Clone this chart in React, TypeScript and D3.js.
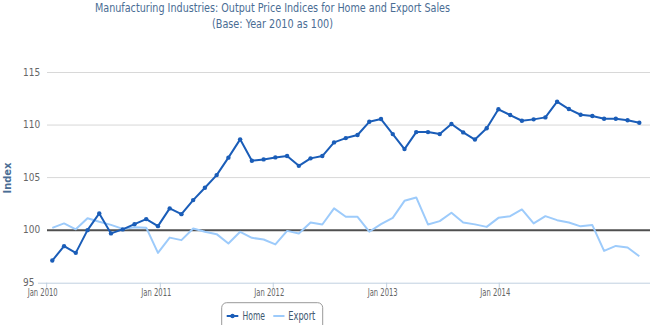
import React from "react";
import * as d3 from "d3";

const title1 = "Manufacturing Industries: Output Price Indices for Home and Export Sales";
const title2 = "(Base: Year 2010 as 100)";
const yTitle = "Index";
const seriesNames = ["Home", "Export"];

const home = [
  97.11, 98.48, 97.84, 100.0, 101.59, 99.69, 100.07, 100.57, 101.05, 100.38,
  102.07, 101.52, 102.86, 104.03, 105.24, 106.9, 108.64, 106.6, 106.73, 106.92,
  107.05, 106.12, 106.83, 107.05, 108.35, 108.76, 109.05, 110.31, 110.57, 109.14,
  107.71, 109.33, 109.33, 109.14, 110.1, 109.3, 108.62, 109.69, 111.5, 110.95,
  110.41, 110.54, 110.73, 112.22, 111.52, 110.98, 110.86, 110.6, 110.6, 110.45,
  110.22,
];
const exportS = [
  100.22, 100.64, 100.08, 101.14, 100.8, 100.5, 100.12, 100.27, 100.24, 97.84,
  99.29, 99.05, 100.16, 99.84, 99.62, 98.73, 99.84, 99.27, 99.11, 98.64,
  99.93, 99.69, 100.73, 100.54, 102.07, 101.27, 101.27, 99.85, 100.57, 101.17,
  102.79, 103.11, 100.54, 100.86, 101.65, 100.73, 100.55, 100.31, 101.17, 101.33,
  101.97, 100.64, 101.33, 100.95, 100.73, 100.36, 100.48, 98.03, 98.5, 98.35,
  97.52,
];
const xTickLabels = ["Jan 2010", "Jan 2011", "Jan 2012", "Jan 2013", "Jan 2014"];
const xTickAt = [-0.48, 9.2, 18.82, 28.48, 38.07];
const yTicks = [95, 100, 105, 110, 115];
const baseValue = 100;

const W = 650;
const H = 325;
const plotLeft = 47;
const plotRight = 650;
const FONT = "'Liberation Sans Narrow', 'DejaVu Sans Condensed', 'Liberation Sans', sans-serif";
const HOME_C = "#1a5db8";
const EXP_C = "#9dcbfb";

export default function App() {
  const x = d3.scaleLinear().domain([0, home.length - 1]).range([52.3, 639.3]);
  const y = d3.scaleLinear().domain([95, 115]).range([282.7, 72.5]);
  const line = d3
    .line<number>()
    .x((_, i) => x(i))
    .y((d) => y(d));

  return (
    <svg
      width={W}
      height={H}
      style={{ position: "absolute", left: 0, top: 0, display: "block", background: "#fff" }}
      fontFamily={FONT}
    >
      <text x={272.5} y={12} textAnchor="middle" fontSize={12.5} fill="#4a6d94" textLength={355} lengthAdjust="spacingAndGlyphs">
        {title1}
      </text>
      <text x={272.5} y={27.5} textAnchor="middle" fontSize={12.5} fill="#4a6d94" textLength={121} lengthAdjust="spacingAndGlyphs">
        {title2}
      </text>

      {yTicks.filter((t) => t !== 95 && t !== baseValue).map((t) => (
        <line key={t} x1={plotLeft} x2={plotRight} y1={y(t)} y2={y(t)} stroke="#d8d8d8" strokeWidth={1} />
      ))}
      {yTicks.map((t) => (
        <text key={"l" + t} x={23} y={y(t) + 3} fontSize={10.5} fill="#666" textLength={String(t).length * 5.7} lengthAdjust="spacingAndGlyphs">
          {t}
        </text>
      ))}
      <text
        transform={`translate(11, 178) rotate(-90)`}
        textAnchor="middle"
        fontSize={11}
        fontWeight="bold"
        fill="#4a6d94"
      >
        {yTitle}
      </text>

      <line x1={plotLeft - 9} x2={plotRight} y1={y(95) + 0.5} y2={y(95) + 0.5} stroke="#c0d0e0" strokeWidth={1} />
      {xTickAt.map((t, i) => (
        <g key={i}>
          <line x1={x(t)} x2={x(t)} y1={y(95)} y2={y(95) + 5} stroke="#c0d0e0" strokeWidth={1} />
          <text x={x(t) - 4} y={295.5} textAnchor="middle" fontSize={10} fill="#666" textLength={30} lengthAdjust="spacingAndGlyphs">
            {xTickLabels[i]}
          </text>
        </g>
      ))}

      <line x1={plotLeft} x2={plotRight} y1={y(baseValue)} y2={y(baseValue)} stroke="#4f4f4f" strokeWidth={2} />

      <path d={line(exportS) || ""} fill="none" stroke={EXP_C} strokeWidth={2} strokeLinejoin="round" />
      <path d={line(home) || ""} fill="none" stroke={HOME_C} strokeWidth={2} strokeLinejoin="round" />
      {home.map((d, i) => (
        <circle key={i} cx={x(i)} cy={y(d)} r={2.2} fill={HOME_C} />
      ))}

      <rect x={221.7} y={302.7} width={101} height={30} rx={5} fill="#fff" stroke="#999" strokeWidth={1} />
      <line x1={226.7} x2={238.3} y1={316} y2={316} stroke={HOME_C} strokeWidth={2} />
      <circle cx={232.5} cy={316} r={2.2} fill={HOME_C} />
      <text x={242.5} y={320} fontSize={12} fill="#3e576f" textLength={22.5} lengthAdjust="spacingAndGlyphs">
        {seriesNames[0]}
      </text>
      <line x1={273.3} x2={284.5} y1={316} y2={316} stroke={EXP_C} strokeWidth={2} />
      <text x={288.3} y={320} fontSize={12} fill="#3e576f" textLength={27} lengthAdjust="spacingAndGlyphs">
        {seriesNames[1]}
      </text>
    </svg>
  );
}
